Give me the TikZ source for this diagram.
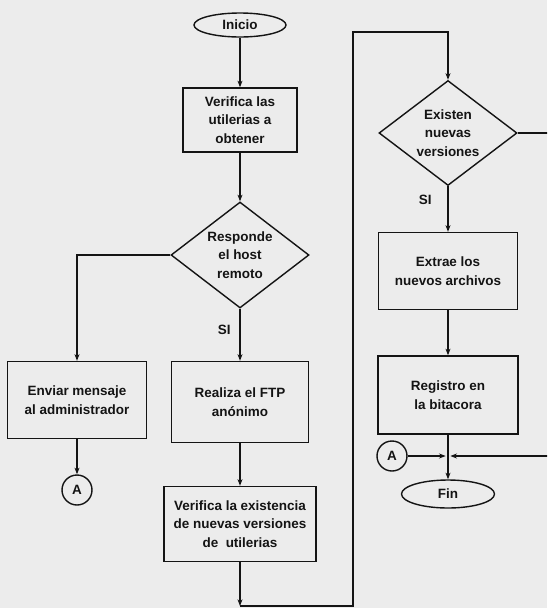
\documentclass[tikz,border=0pt]{standalone}
\usepackage{fontspec}
\setmainfont{Liberation Sans}
\usetikzlibrary{positioning, shapes.geometric}
\usetikzlibrary{arrows.meta}

\definecolor{paper}{RGB}{236,236,236}
\definecolor{ink}{RGB}{20,20,20}

\begin{document}
\begin{tikzpicture}[x=0.03cm, y=-0.03cm,
  every node/.style={font=\bfseries\fontsize{11.5}{16}\selectfont, text=ink},
  flow/.style={draw=ink, line width=1.2pt},
  arr/.style={flow, -{Stealth[length=2mm, width=1.5mm]}},
  proc/.style={rectangle, draw=ink, line width=1.2pt, align=center, inner sep=2pt},
  decide/.style={diamond, draw=ink, line width=1.2pt, align=center, inner sep=0pt, aspect=1.3},
  term/.style={ellipse, draw=ink, line width=1.2pt, inner sep=0pt},
  conn/.style={circle, draw=ink, line width=1.2pt, inner sep=0pt, minimum size=0.9cm}]
\clip (0,0) rectangle (547,608);
\fill[paper] (0,0) rectangle (547,608);

% columna izquierda
\node[term, minimum width=2.76cm, minimum height=0.72cm] (inicio) at (240,25) {Inicio};
\node[proc, minimum width=3.42cm, minimum height=1.92cm] (verutil) at (240,120) {Verifica las\\utilerias a\\obtener};
\node[decide, minimum width=4.14cm, minimum height=3.18cm] (responde) at (240,255) {Responde\\el host\\remoto};
\node[proc, minimum width=4.17cm, minimum height=2.31cm] (enviar) at (77,400) {Enviar mensaje\\al administrador};
\node[conn] (conA) at (77,490) {A};
\node[proc, minimum width=4.11cm, minimum height=2.43cm] (ftp) at (240,402) {Realiza el FTP\\anónimo};
\node[proc, minimum width=4.56cm, minimum height=2.25cm] (verver) at (240,524) {Verifica la existencia\\de nuevas versiones\\de \ utilerias};

% columna derecha
\node[decide, minimum width=4.14cm, minimum height=3.15cm] (existen) at (448,133) {Existen\\nuevas\\versiones};
\node[proc, minimum width=4.17cm, minimum height=2.31cm] (extrae) at (448,271) {Extrae los\\nuevos archivos};
\node[proc, minimum width=4.2cm, minimum height=2.34cm] (registro) at (448,395) {Registro en\\la bitacora};
\node[conn] (conB) at (392,456) {A};
\node[term, minimum width=2.79cm, minimum height=0.84cm] (fin) at (448,494) {Fin};

\coordinate (abajo) at (240,606);
\coordinate (esqB) at (353,606);
\coordinate (esqT) at (353,32);
\coordinate (union) at (448,456);
\coordinate (fuera) at (556,133);

\draw[arr] (inicio) -- (verutil);
\draw[arr] (verutil) -- (responde);
\draw[arr] (responde.west) -| (enviar.north);
\draw[arr] (responde.south) -- node[pos=0.4, left=4pt] {SI} (ftp.north);
\draw[arr] (enviar) -- (conA);
\draw[arr] (ftp) -- (verver);
\draw[arr] (verver) -- (abajo);
\draw[arr] (abajo) -- (esqB) -- (esqT) -| (existen.north);

\draw[arr] (existen.south) -- node[pos=0.3, left=10pt] {SI} (extrae.north);
\draw[arr] (extrae) -- (registro);
\draw[arr] (registro) -- (fin);
\draw[arr, shorten >=2pt] (conB) -- (union);
\draw[arr, shorten >=2pt] (existen.east) -- (fuera) |- (union);
\end{tikzpicture}
\end{document}
